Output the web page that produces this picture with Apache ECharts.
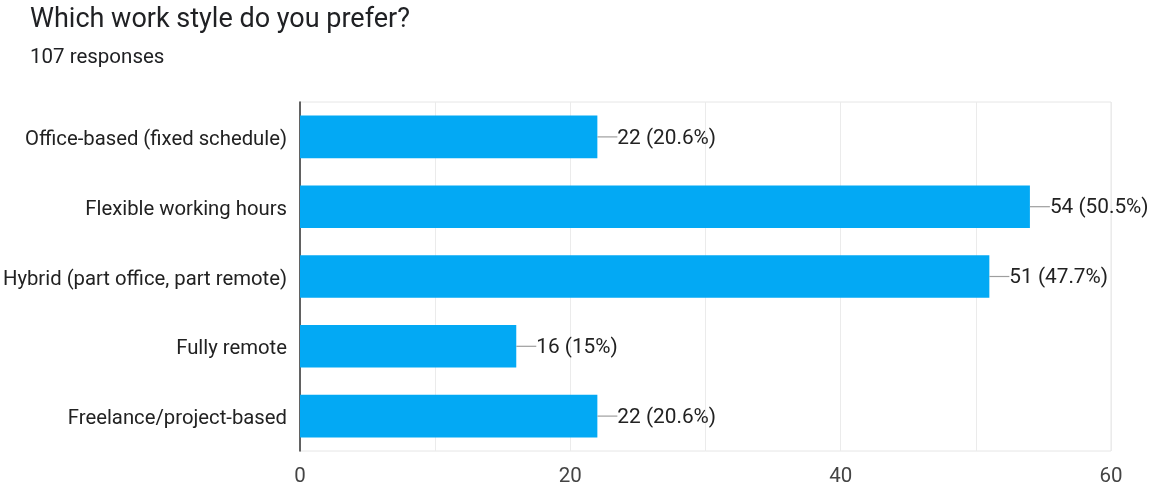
<!DOCTYPE html>
<html>
<head>
<meta charset="utf-8">
<script src="https://cdn.jsdelivr.net/npm/echarts@6/dist/echarts.min.js"></script>
<style>
  html, body { margin: 0; padding: 0; background: #fff; }
  #chart { width: 1150px; height: 487px; }
</style>
</head>
<body>
<div id="chart"></div>
<script>
// Survey answers and counts
const categories = [
  'Office-based (fixed schedule)',
  'Flexible working hours',
  'Hybrid (part office, part remote)',
  'Fully remote',
  'Freelance/project-based'
];
const counts = [22, 54, 51, 16, 22];
const totalResponses = 107;
const axisTicks = [0, 20, 40, 60];

function pct(v) {
  return (v / totalResponses * 100).toFixed(1).replace(/\.0$/, '');
}

const chart = echarts.init(document.getElementById('chart'), null, { renderer: 'canvas' });
chart.setOption({
  animation: false,
  textStyle: { fontFamily: 'Roboto' },
  title: [
    {
      text: 'Which work style do you prefer?',
      left: 30, top: 7, padding: 0,
      textStyle: { fontFamily: 'Roboto', fontSize: 27, fontWeight: 'normal', color: '#202124' }
    },
    {
      text: totalResponses + ' responses',
      left: 30, top: 47, padding: 0,
      textStyle: { fontFamily: 'Roboto', fontSize: 20.5, fontWeight: 'normal', color: '#202124' }
    }
  ],
  grid: {
    left: 300, right: 39, top: 102, bottom: 36,
    outerBoundsMode: 'none',
    containLabel: false,
    show: true, borderColor: '#e6e6e6', borderWidth: 1, backgroundColor: 'transparent'
  },
  xAxis: {
    type: 'value',
    min: axisTicks[0], max: axisTicks[axisTicks.length - 1], interval: 10,
    axisLine: { show: false },
    axisTick: { show: false },
    splitLine: { show: true, lineStyle: { color: '#ebebeb', width: 1 } },
    axisLabel: {
      fontFamily: 'Roboto', fontSize: 20.5, color: '#444', margin: 15,
      formatter: v => axisTicks.indexOf(v) >= 0 ? String(v) : ''
    }
  },
  yAxis: {
    type: 'category',
    data: categories,
    inverse: true,
    axisLine: { show: true, lineStyle: { color: '#333', width: 1.5 } },
    axisTick: { show: false },
    axisLabel: {
      margin: 13,
      formatter: v => '{c|' + v + '}',
      rich: {
        c: { fontFamily: 'Roboto', fontSize: 20.3, color: '#222', padding: [6, 0, 0, 0] }
      }
    }
  },
  series: [{
    type: 'bar',
    data: counts,
    barCategoryGap: '39%',
    itemStyle: { color: '#03a9f4' },
    label: {
      show: true,
      position: 'right',
      distance: 0,
      formatter: p => '{l|}{t|' + p.value + ' (' + pct(p.value) + '%)}',
      rich: {
        l: { width: 20, height: 1.2, backgroundColor: '#9e9e9e' },
        t: { fontFamily: 'Roboto', fontSize: 20.8, color: '#222', padding: [3, 0, 0, 0] }
      }
    }
  }]
});
</script>
</body>
</html>
